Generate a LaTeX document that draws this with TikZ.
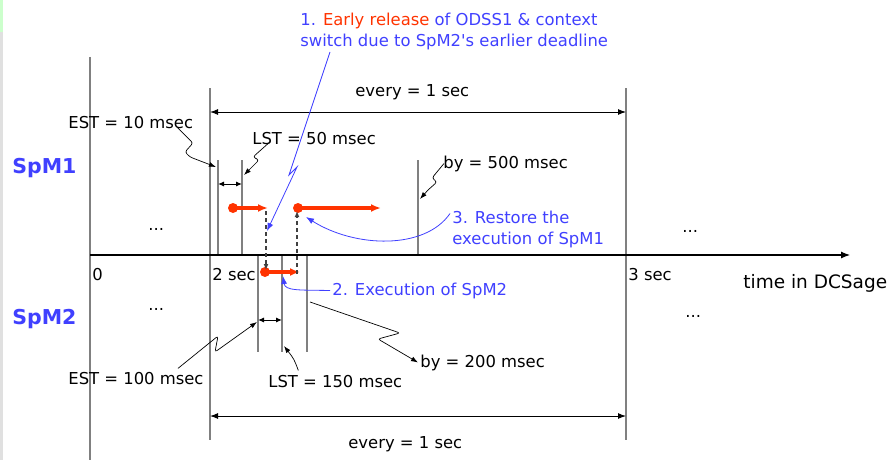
\documentclass[tikz,border=0pt]{standalone}
\usepackage{fontspec}
\setmainfont{DejaVu Sans}[Ligatures=TeXOff]
\usetikzlibrary{arrows.meta}
\definecolor{noteblue}{RGB}{64,64,255}
\definecolor{execred}{RGB}{255,51,0}
\definecolor{tickgray}{RGB}{128,128,128}
\definecolor{dashgray}{RGB}{64,64,64}
\definecolor{stripgreen}{RGB}{204,255,204}
\definecolor{stripgray}{RGB}{224,224,224}
\newcommand{\lblfont}{\fontsize{16.4}{20.8}\selectfont}

\begin{document}
\begin{tikzpicture}[x=1pt, y=-1pt, line width=0.8pt,
  every node/.style={inner sep=0pt, font=\lblfont},
  lbl/.style={anchor=base west},
  bluelbl/.style={text=noteblue, align=left},
  tasklbl/.style={anchor=base west, text=noteblue, font=\fontsize{20.5}{24}\selectfont\bfseries},
  tickline/.style={tickgray, line width=1.8pt},
  axisline/.style={-{Latex[length=9pt,width=7pt]}, line width=1.1pt},
  spanline/.style={{Latex[length=8pt,width=6pt]}-{Latex[length=8pt,width=6pt]}, line width=1pt},
  gapline/.style={{Latex[length=6pt,width=5pt]}-{Latex[length=6pt,width=5pt]}, line width=1pt},
  callout/.style={-{Latex[length=7pt,width=5pt]}, line width=0.7pt, rounded corners=2.5pt},
  bluecall/.style={-{Latex[length=8pt,width=6pt]}, noteblue, line width=0.8pt},
  execline/.style={-{Latex[length=10pt,width=8pt]}, execred, line width=3.2pt},
  dashlink/.style={-{Latex[length=6pt,width=5pt]}, dashgray, line width=1.3pt, dash pattern=on 4pt off 3pt}]

  \useasboundingbox (0,0) rectangle (891,460);
  \fill[stripgray] (0,0) rectangle (2.5,460);
  \fill[stripgreen] (0,0) rectangle (2.5,32);

  % time marks
  \draw[tickline] (90,57) -- (90,460);
  \draw[tickline] (210,88) -- (210,440);
  \draw[tickline] (626,88) -- (626,440);
  \foreach \x in {218,242,418} \draw[tickline] (\x,160) -- (\x,255);
  \foreach \x in {258,282,307} \draw[tickline] (\x,256) -- (\x,352);

  % time axis
  \coordinate (origin) at (90,255);
  \coordinate (axisend) at (850,255);
  \draw[axisline] (origin) -- (axisend);
  \node[lbl] (t0) at (92,280) {0};
  \node[lbl] (t2) at (212,280) {2 sec};
  \node[lbl] (t3) at (628,280) {3 sec};
  \node[lbl, font=\fontsize{18.5}{22}\selectfont] (timelbl) at (743,288) {time in DCSage};

  % task names
  \node[tasklbl] (spm1) at (12,173) {SpM1};
  \node[tasklbl] (spm2) at (12,324) {SpM2};
  \node[lbl] (dots1l) at (148,230) {...};
  \node[lbl] (dots1r) at (682,232) {...};
  \node[lbl] (dots2l) at (148,310) {...};
  \node[lbl] (dots2r) at (685,317) {...};

  % periods
  \coordinate (ev1l) at (210,112);
  \coordinate (ev1r) at (626,112);
  \draw[spanline] (ev1l) -- (ev1r);
  \node[lbl] (every1) at (355,96) {every = 1 sec};
  \coordinate (ev2l) at (210,416);
  \coordinate (ev2r) at (626,416);
  \draw[spanline] (ev2l) -- (ev2r);
  \node[lbl] (every2) at (348,448) {every = 1 sec};

  % start windows
  \coordinate (win1l) at (218,184);
  \coordinate (win1r) at (242,184);
  \draw[gapline] (win1l) -- (win1r);
  \coordinate (win2l) at (258,320);
  \coordinate (win2r) at (282,320);
  \draw[gapline] (win2l) -- (win2r);

  % SpM1 constraints
  \node[lbl] (est1) at (68,128) {EST = 10 msec};
  \coordinate (est1tip) at (216,167);
  \draw[callout] ([xshift=-16pt,yshift=1pt]est1.south east) -- (193,143) -- (185,152) -- (190,157) -- (est1tip);
  \node[lbl] (lst1) at (252,144) {LST = 50 msec};
  \coordinate (lst1tip) at (244,175);
  \draw[callout] ([xshift=16pt,yshift=1pt]lst1.south west) -- (253,157) -- (259,160) -- (253,166) -- (lst1tip);
  \node[lbl] (by1) at (443,168) {by = 500 msec};
  \coordinate (by1tip) at (420,199);
  \draw[callout] ([xshift=1pt]by1.west) -- (432,178) -- (437,182) -- (428,190) -- (by1tip);

  % SpM2 constraints
  \node[lbl] (est2) at (68,384) {EST = 100 msec};
  \coordinate (est2tip) at (257,322);
  \draw[callout] ([xshift=42pt,yshift=3pt]est2.north) -- (218,336) -- (215,352) -- (est2tip);
  \node[lbl] (lst2) at (268,387) {LST = 150 msec};
  \coordinate (lst2tip) at (284,346);
  \draw[callout] ([xshift=-37pt,yshift=4pt]lst2.north) .. controls (294,359) .. (lst2tip);
  \coordinate (by2start) at (310,302);
  \node[lbl] (by2) at (420,367) {by = 200 msec};
  \draw[callout] (by2start) -- (400,333) -- (378,339) -- ([xshift=-2pt]by2.west);

  % execution
  \coordinate (run1a) at (233,208);
  \coordinate (run1b) at (268,208);
  \coordinate (run1c) at (298,208);
  \coordinate (run1d) at (381,208);
  \coordinate (run2a) at (265,272);
  \coordinate (run2b) at (300,272);
  \fill[execred] (run1a) circle (5);
  \fill[execred] (run1c) circle (5);
  \fill[execred] (run2a) circle (5);
  \draw[execline] (run1a) -- (run1b);
  \draw[execline] (run1c) -- (run1d);
  \draw[execline] (run2a) -- (run2b);
  \draw[dashlink] (266,211) -- (266,270);
  \draw[dashlink] (297,274) -- (297,211);

  % notes
  \node[bluelbl, anchor=north west] (note1) at (300,12.5)
    {1. \textcolor{execred}{Early release} of ODSS1 \& context\\switch due to SpM2's earlier deadline};
  \coordinate (note1tip) at (267,231);
  \draw[bluecall] ([xshift=30pt,yshift=-2pt]note1.south west) -- (289,175) -- (297,167) -- (note1tip);
  \node[bluelbl, anchor=base west] (note2) at (332,295) {2. Execution of SpM2};
  \coordinate (note2tip) at (283,276);
  \draw[bluecall] ([xshift=-2pt]note2.west) .. controls (300,290) and (285,291) .. (note2tip);
  \node[bluelbl, anchor=north west] (note3) at (452,210.5) {3. Restore the\\execution of SpM1};
  \coordinate (note3tip) at (306,217);
  \draw[bluecall] ([xshift=-2pt,yshift=-3pt]note3.north west) .. controls (425,250) and (355,248) .. (note3tip);
\end{tikzpicture}
\end{document}
